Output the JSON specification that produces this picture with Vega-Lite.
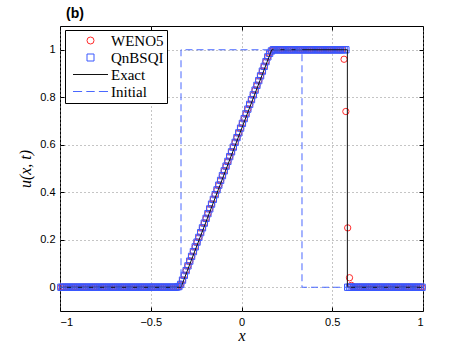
{
  "$schema": "https://vega.github.io/schema/vega-lite/v6.json",
  "width": 363,
  "height": 285,
  "autosize": "none",
  "padding": {"left": 60, "top": 26, "right": 44, "bottom": 41},
  "background": "white",
  "config": {
    "view": {"stroke": "#000000", "strokeWidth": 1},
    "axis": {"labelFont": "Liberation Sans", "labelFontSize": 11, "labelColor": "black", "tickColor": "black", "titleColor": "black", "domain": false, "tickSize": -4, "format": "~g"},
    "legend": {"orient": "none", "legendX": 5, "legendY": 4, "labelFont": "Liberation Serif", "labelFontSize": 15, "labelColor": "black",
      "symbolSize": 49, "symbolStrokeWidth": 1, "symbolOffset": 15, "labelOffset": 13, "rowPadding": 1, "padding": 3,
      "strokeColor": "black", "fillColor": "white"}
  },
  "title": {"text": "(b)", "anchor": "start", "frame": "group", "font": "Liberation Sans", "fontSize": 14, "fontWeight": "bold", "dx": 6, "offset": 5, "color": "black"},
  "datasets": {
    "num": [
      {"x": -0.995, "w": 0, "q": 0}, {"x": -0.985, "w": 0, "q": 0}, {"x": -0.975, "w": 0, "q": 0}, {"x": -0.965, "w": 0, "q": 0}, {"x": -0.955, "w": 0, "q": 0},
      {"x": -0.945, "w": 0, "q": 0}, {"x": -0.935, "w": 0, "q": 0}, {"x": -0.925, "w": 0, "q": 0}, {"x": -0.915, "w": 0, "q": 0}, {"x": -0.905, "w": 0, "q": 0},
      {"x": -0.895, "w": 0, "q": 0}, {"x": -0.885, "w": 0, "q": 0}, {"x": -0.875, "w": 0, "q": 0}, {"x": -0.865, "w": 0, "q": 0}, {"x": -0.855, "w": 0, "q": 0},
      {"x": -0.845, "w": 0, "q": 0}, {"x": -0.835, "w": 0, "q": 0}, {"x": -0.825, "w": 0, "q": 0}, {"x": -0.815, "w": 0, "q": 0}, {"x": -0.805, "w": 0, "q": 0},
      {"x": -0.795, "w": 0, "q": 0}, {"x": -0.785, "w": 0, "q": 0}, {"x": -0.775, "w": 0, "q": 0}, {"x": -0.765, "w": 0, "q": 0}, {"x": -0.755, "w": 0, "q": 0},
      {"x": -0.745, "w": 0, "q": 0}, {"x": -0.735, "w": 0, "q": 0}, {"x": -0.725, "w": 0, "q": 0}, {"x": -0.715, "w": 0, "q": 0}, {"x": -0.705, "w": 0, "q": 0},
      {"x": -0.695, "w": 0, "q": 0}, {"x": -0.685, "w": 0, "q": 0}, {"x": -0.675, "w": 0, "q": 0}, {"x": -0.665, "w": 0, "q": 0}, {"x": -0.655, "w": 0, "q": 0},
      {"x": -0.645, "w": 0, "q": 0}, {"x": -0.635, "w": 0, "q": 0}, {"x": -0.625, "w": 0, "q": 0}, {"x": -0.615, "w": 0, "q": 0}, {"x": -0.605, "w": 0, "q": 0},
      {"x": -0.595, "w": 0, "q": 0}, {"x": -0.585, "w": 0, "q": 0}, {"x": -0.575, "w": 0, "q": 0}, {"x": -0.565, "w": 0, "q": 0}, {"x": -0.555, "w": 0, "q": 0},
      {"x": -0.545, "w": 0, "q": 0}, {"x": -0.535, "w": 0, "q": 0}, {"x": -0.525, "w": 0, "q": 0}, {"x": -0.515, "w": 0, "q": 0}, {"x": -0.505, "w": 0, "q": 0},
      {"x": -0.495, "w": 0, "q": 0}, {"x": -0.485, "w": 0, "q": 0}, {"x": -0.475, "w": 0, "q": 0}, {"x": -0.465, "w": 0, "q": 0}, {"x": -0.455, "w": 0, "q": 0},
      {"x": -0.445, "w": 0, "q": 0}, {"x": -0.435, "w": 0, "q": 0}, {"x": -0.425, "w": 0, "q": 0}, {"x": -0.415, "w": 0, "q": 0}, {"x": -0.405, "w": 0, "q": 0},
      {"x": -0.395, "w": 0, "q": 0}, {"x": -0.385, "w": 0, "q": 0}, {"x": -0.375, "w": 0, "q": 0}, {"x": -0.365, "w": 0, "q": 0}, {"x": -0.355, "w": 0.001, "q": 0.001},
      {"x": -0.345, "w": 0.003, "q": 0.003}, {"x": -0.335, "w": 0.012, "q": 0.012}, {"x": -0.325, "w": 0.03, "q": 0.03}, {"x": -0.315, "w": 0.05, "q": 0.05}, {"x": -0.305, "w": 0.07, "q": 0.07},
      {"x": -0.295, "w": 0.09, "q": 0.09}, {"x": -0.285, "w": 0.11, "q": 0.11}, {"x": -0.275, "w": 0.13, "q": 0.13}, {"x": -0.265, "w": 0.15, "q": 0.15}, {"x": -0.255, "w": 0.17, "q": 0.17},
      {"x": -0.245, "w": 0.19, "q": 0.19}, {"x": -0.235, "w": 0.21, "q": 0.21}, {"x": -0.225, "w": 0.23, "q": 0.23}, {"x": -0.215, "w": 0.25, "q": 0.25}, {"x": -0.205, "w": 0.27, "q": 0.27},
      {"x": -0.195, "w": 0.29, "q": 0.29}, {"x": -0.185, "w": 0.31, "q": 0.31}, {"x": -0.175, "w": 0.33, "q": 0.33}, {"x": -0.165, "w": 0.35, "q": 0.35}, {"x": -0.155, "w": 0.37, "q": 0.37},
      {"x": -0.145, "w": 0.39, "q": 0.39}, {"x": -0.135, "w": 0.41, "q": 0.41}, {"x": -0.125, "w": 0.43, "q": 0.43}, {"x": -0.115, "w": 0.45, "q": 0.45}, {"x": -0.105, "w": 0.47, "q": 0.47},
      {"x": -0.095, "w": 0.49, "q": 0.49}, {"x": -0.085, "w": 0.51, "q": 0.51}, {"x": -0.075, "w": 0.53, "q": 0.53}, {"x": -0.065, "w": 0.55, "q": 0.55}, {"x": -0.055, "w": 0.57, "q": 0.57},
      {"x": -0.045, "w": 0.59, "q": 0.59}, {"x": -0.035, "w": 0.61, "q": 0.61}, {"x": -0.025, "w": 0.63, "q": 0.63}, {"x": -0.015, "w": 0.65, "q": 0.65}, {"x": -0.005, "w": 0.67, "q": 0.67},
      {"x": 0.005, "w": 0.69, "q": 0.69}, {"x": 0.015, "w": 0.71, "q": 0.71}, {"x": 0.025, "w": 0.73, "q": 0.73}, {"x": 0.035, "w": 0.75, "q": 0.75}, {"x": 0.045, "w": 0.77, "q": 0.77},
      {"x": 0.055, "w": 0.79, "q": 0.79}, {"x": 0.065, "w": 0.81, "q": 0.81}, {"x": 0.075, "w": 0.83, "q": 0.83}, {"x": 0.085, "w": 0.85, "q": 0.85}, {"x": 0.095, "w": 0.87, "q": 0.87},
      {"x": 0.105, "w": 0.89, "q": 0.89}, {"x": 0.115, "w": 0.91, "q": 0.91}, {"x": 0.125, "w": 0.93, "q": 0.93}, {"x": 0.135, "w": 0.95, "q": 0.95}, {"x": 0.145, "w": 0.97, "q": 0.97},
      {"x": 0.155, "w": 0.985, "q": 0.985}, {"x": 0.165, "w": 0.995, "q": 0.995}, {"x": 0.175, "w": 1, "q": 1}, {"x": 0.185, "w": 1, "q": 1}, {"x": 0.195, "w": 1, "q": 1},
      {"x": 0.205, "w": 1, "q": 1}, {"x": 0.215, "w": 1, "q": 1}, {"x": 0.225, "w": 1, "q": 1}, {"x": 0.235, "w": 1, "q": 1}, {"x": 0.245, "w": 1, "q": 1},
      {"x": 0.255, "w": 1, "q": 1}, {"x": 0.265, "w": 1, "q": 1}, {"x": 0.275, "w": 1, "q": 1}, {"x": 0.285, "w": 1, "q": 1}, {"x": 0.295, "w": 1, "q": 1},
      {"x": 0.305, "w": 1, "q": 1}, {"x": 0.315, "w": 1, "q": 1}, {"x": 0.325, "w": 1, "q": 1}, {"x": 0.335, "w": 1, "q": 1}, {"x": 0.345, "w": 1, "q": 1},
      {"x": 0.355, "w": 1, "q": 1}, {"x": 0.365, "w": 1, "q": 1}, {"x": 0.375, "w": 1, "q": 1}, {"x": 0.385, "w": 1, "q": 1}, {"x": 0.395, "w": 1, "q": 1},
      {"x": 0.405, "w": 1, "q": 1}, {"x": 0.415, "w": 1, "q": 1}, {"x": 0.425, "w": 1, "q": 1}, {"x": 0.435, "w": 1, "q": 1}, {"x": 0.445, "w": 1, "q": 1},
      {"x": 0.455, "w": 1, "q": 1}, {"x": 0.465, "w": 1, "q": 1}, {"x": 0.475, "w": 1, "q": 1}, {"x": 0.485, "w": 1, "q": 1}, {"x": 0.495, "w": 1, "q": 1},
      {"x": 0.505, "w": 1, "q": 1}, {"x": 0.515, "w": 1, "q": 1}, {"x": 0.525, "w": 1, "q": 1}, {"x": 0.535, "w": 1, "q": 1}, {"x": 0.545, "w": 1, "q": 1},
      {"x": 0.555, "w": 1, "q": 1}, {"x": 0.565, "w": 0.96, "q": 1}, {"x": 0.575, "w": 0.74, "q": 1}, {"x": 0.585, "w": 0.25, "q": 0}, {"x": 0.595, "w": 0.04, "q": 0},
      {"x": 0.605, "w": 0.008, "q": 0}, {"x": 0.615, "w": 0.002, "q": 0}, {"x": 0.625, "w": 0, "q": 0}, {"x": 0.635, "w": 0, "q": 0}, {"x": 0.645, "w": 0, "q": 0},
      {"x": 0.655, "w": 0, "q": 0}, {"x": 0.665, "w": 0, "q": 0}, {"x": 0.675, "w": 0, "q": 0}, {"x": 0.685, "w": 0, "q": 0}, {"x": 0.695, "w": 0, "q": 0},
      {"x": 0.705, "w": 0, "q": 0}, {"x": 0.715, "w": 0, "q": 0}, {"x": 0.725, "w": 0, "q": 0}, {"x": 0.735, "w": 0, "q": 0}, {"x": 0.745, "w": 0, "q": 0},
      {"x": 0.755, "w": 0, "q": 0}, {"x": 0.765, "w": 0, "q": 0}, {"x": 0.775, "w": 0, "q": 0}, {"x": 0.785, "w": 0, "q": 0}, {"x": 0.795, "w": 0, "q": 0},
      {"x": 0.805, "w": 0, "q": 0}, {"x": 0.815, "w": 0, "q": 0}, {"x": 0.825, "w": 0, "q": 0}, {"x": 0.835, "w": 0, "q": 0}, {"x": 0.845, "w": 0, "q": 0},
      {"x": 0.855, "w": 0, "q": 0}, {"x": 0.865, "w": 0, "q": 0}, {"x": 0.875, "w": 0, "q": 0}, {"x": 0.885, "w": 0, "q": 0}, {"x": 0.895, "w": 0, "q": 0},
      {"x": 0.905, "w": 0, "q": 0}, {"x": 0.915, "w": 0, "q": 0}, {"x": 0.925, "w": 0, "q": 0}, {"x": 0.935, "w": 0, "q": 0}, {"x": 0.945, "w": 0, "q": 0},
      {"x": 0.955, "w": 0, "q": 0}, {"x": 0.965, "w": 0, "q": 0}, {"x": 0.975, "w": 0, "q": 0}, {"x": 0.985, "w": 0, "q": 0}, {"x": 0.995, "w": 0, "q": 0}
    ],
    "exact": [
      {"i": 0, "x": -1, "u": 0}, {"i": 1, "x": -0.3333, "u": 0}, {"i": 2, "x": 0.1667, "u": 1},
      {"i": 3, "x": 0.5833, "u": 1}, {"i": 4, "x": 0.5833, "u": 0}, {"i": 5, "x": 1, "u": 0}
    ],
    "init": [
      {"i": 0, "x": -1, "u": 0}, {"i": 1, "x": -0.3333, "u": 0}, {"i": 2, "x": -0.3333, "u": 1},
      {"i": 3, "x": 0.3333, "u": 1}, {"i": 4, "x": 0.3333, "u": 0}, {"i": 5, "x": 1, "u": 0}
    ]
  },
  "resolve": {"axis": {"x": "independent", "y": "independent"}},
  "layer": [
    {
      "data": {"name": "num"},
      "mark": {"type": "point", "filled": false, "size": 40, "strokeWidth": 1, "opacity": 1},
      "encoding": {
        "x": {"field": "x", "type": "quantitative", "scale": {"domain": [-1, 1], "nice": false, "zero": false},
          "axis": {"orient": "bottom", "values": [-1, -0.5, 0, 0.5, 1], "grid": true, "gridColor": "#8a8a8a", "gridDash": [1, 3], "labelPadding": 9, "title": "x", "titleFont": "Liberation Serif", "titleFontStyle": "italic", "titleFontWeight": "normal", "titleFontSize": 16, "titlePadding": 0}},
        "y": {"field": "w", "type": "quantitative", "scale": {"domain": [-0.1, 1.1], "nice": false, "zero": false},
          "axis": {"orient": "left", "values": [0, 0.2, 0.4, 0.6, 0.8, 1], "grid": true, "gridColor": "#8a8a8a", "gridDash": [1, 3], "labelPadding": 9, "title": "u(x, t)", "titleFont": "Liberation Serif", "titleFontStyle": "italic", "titleFontWeight": "normal", "titleFontSize": 16, "titlePadding": 6}},
        "color": {"datum": "WENO5", "type": "nominal",
          "scale": {"domain": ["WENO5", "QnBSQI", "Exact", "Initial"], "range": ["#ff2a2a", "#3a58ff", "#111111", "#4a68ff"]},
          "legend": {"title": null}},
        "shape": {"datum": "WENO5", "type": "nominal",
          "scale": {"domain": ["WENO5", "QnBSQI", "Exact", "Initial"], "range": ["circle", "square", "M-5,0H5", "M-5,0H-2.4M-1.2,0H1.2M2.4,0H5"]},
          "legend": {"title": null}}
      }
    },
    {
      "data": {"name": "num"},
      "mark": {"type": "point", "filled": false, "size": 40, "strokeWidth": 1, "opacity": 1},
      "encoding": {
        "x": {"field": "x", "type": "quantitative", "axis": {"orient": "top", "values": [-1, -0.5, 0, 0.5, 1], "labels": false, "grid": false, "title": null}},
        "y": {"field": "q", "type": "quantitative", "axis": {"orient": "right", "values": [0, 0.2, 0.4, 0.6, 0.8, 1], "labels": false, "grid": false, "title": null}},
        "color": {"datum": "QnBSQI", "type": "nominal"},
        "shape": {"datum": "QnBSQI", "type": "nominal"}
      }
    },
    {
      "data": {"name": "exact"},
      "mark": {"type": "line", "strokeWidth": 1},
      "encoding": {
        "x": {"field": "x", "type": "quantitative", "axis": null},
        "y": {"field": "u", "type": "quantitative", "axis": null},
        "order": {"field": "i"},
        "color": {"datum": "Exact", "type": "nominal"}
      }
    },
    {
      "data": {"name": "init"},
      "mark": {"type": "line", "strokeWidth": 1, "strokeDash": [7, 4]},
      "encoding": {
        "x": {"field": "x", "type": "quantitative", "axis": null},
        "y": {"field": "u", "type": "quantitative", "axis": null},
        "order": {"field": "i"},
        "color": {"datum": "Initial", "type": "nominal"}
      }
    }
  ]
}
